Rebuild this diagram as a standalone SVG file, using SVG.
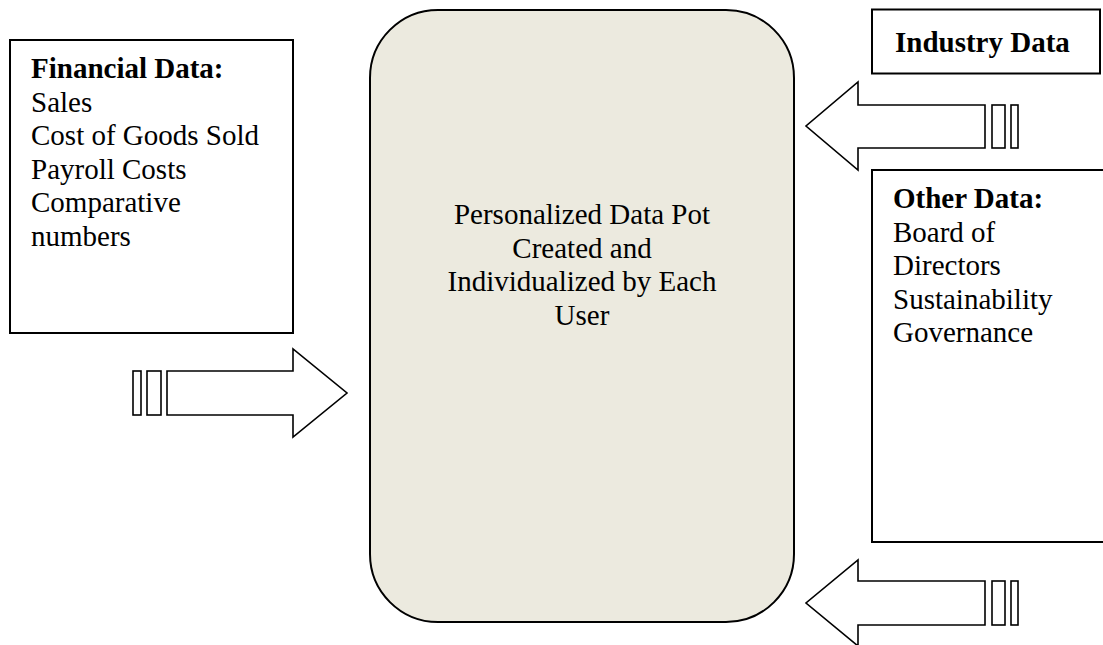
<svg xmlns="http://www.w3.org/2000/svg" width="1103" height="645" viewBox="0 0 1103 645">
  <style>
    .box { fill: #ffffff; stroke: #000000; stroke-width: 2; }
    .pot { fill: #ECEADF; stroke: #000000; stroke-width: 2; }
    .arrow { fill: #ffffff; stroke: #000000; stroke-width: 1.6; stroke-linejoin: miter; }
    .txt { font-family: "Liberation Serif", "Times New Roman", serif; font-size: 29px; fill: #000000; }
    .bold { font-weight: bold; }
    .mid { text-anchor: middle; }
  </style>

  <!-- central data pot -->
  <g id="data-pot">
    <rect class="pot" x="370" y="10" width="424" height="612" rx="68" ry="68"/>
    <text class="txt mid" x="582" y="224">Personalized Data Pot</text>
    <text class="txt mid" x="582" y="257.5">Created and</text>
    <text class="txt mid" x="582" y="291">Individualized by Each</text>
    <text class="txt mid" x="582" y="324.5">User</text>
  </g>

  <!-- financial data source -->
  <g id="financial-data">
    <rect class="box" x="10" y="40" width="283" height="293"/>
    <text class="txt bold" x="31" y="78">Financial Data:</text>
    <text class="txt" x="31" y="111.5">Sales</text>
    <text class="txt" x="31" y="145">Cost of Goods Sold</text>
    <text class="txt" x="31" y="178.5">Payroll Costs</text>
    <text class="txt" x="31" y="212">Comparative</text>
    <text class="txt" x="31" y="245.5">numbers</text>
  </g>

  <!-- industry data source -->
  <g id="industry-data">
    <rect class="box" x="872" y="9.5" width="228" height="64"/>
    <text class="txt bold" x="895" y="52">Industry Data</text>
  </g>

  <!-- other data source -->
  <g id="other-data">
    <rect class="box" x="872" y="170" width="240" height="372"/>
    <text class="txt bold" x="893" y="208">Other Data:</text>
    <text class="txt" x="893" y="241.5">Board of</text>
    <text class="txt" x="893" y="275">Directors</text>
    <text class="txt" x="893" y="308.5">Sustainability</text>
    <text class="txt" x="893" y="342">Governance</text>
  </g>

  <!-- striped block arrows feeding the pot -->
  <g id="connectors">
    <g id="arrow-financial">
      <rect class="arrow" x="133" y="371" width="8" height="44"/>
      <rect class="arrow" x="147" y="371" width="14" height="44"/>
      <path class="arrow" d="M167,371 H293 V349 L347,393 L293,437 V415 H167 Z"/>
    </g>
    <g id="arrow-industry">
      <rect class="arrow" x="1011" y="105" width="7" height="43"/>
      <rect class="arrow" x="992" y="105" width="13" height="43"/>
      <path class="arrow" d="M985,105 H858 V82 L806,126 L858,170 V148 H985 Z"/>
    </g>
    <g id="arrow-other">
      <rect class="arrow" x="1011" y="581" width="7" height="44"/>
      <rect class="arrow" x="992" y="581" width="13" height="44"/>
      <path class="arrow" d="M985,581 H858 V560 L806,603 L858,646 V625 H985 Z"/>
    </g>
  </g>
</svg>
